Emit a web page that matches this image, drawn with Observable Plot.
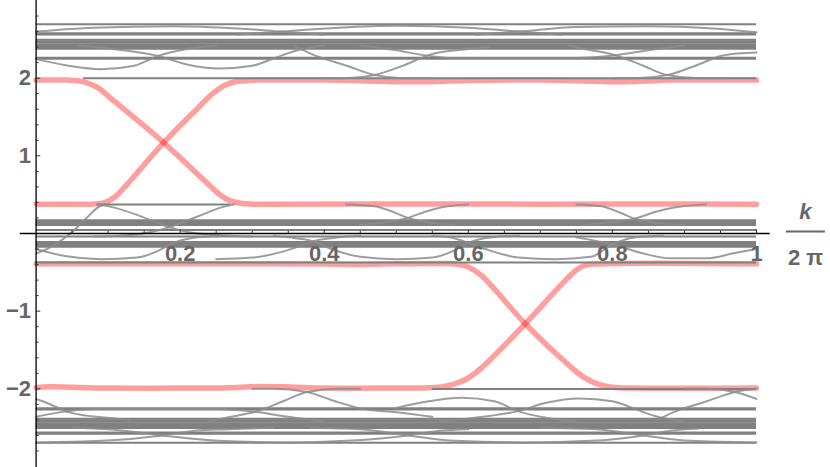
<!DOCTYPE html>
<html><head><meta charset="utf-8">
<script src="https://cdn.jsdelivr.net/npm/d3@7"></script>
<script src="https://cdn.jsdelivr.net/npm/@observablehq/plot@0.6"></script>
<style>body{margin:0;background:#fff;}</style>
</head><body><div id="chart"></div>
<script>
// ---- ticks ----
const xTicks = [0.2, 0.4, 0.6, 0.8, 1];
const xTickLabels = ["0.2", "0.4", "0.6", "0.8", "1"];
const xMinorTicks = [0.05, 0.1, 0.15, 0.25, 0.3, 0.35, 0.45, 0.5, 0.55, 0.65, 0.7, 0.75, 0.85, 0.9, 0.95];
const yTicks = [-2, -1, 1, 2];
const yTickLabels = ["−2", "−1", "1", "2"];
const yMinorTicks = [-2.8, -2.6, -2.4, -2.2, -1.8, -1.6, -1.4, -1.2, -0.8, -0.6, -0.4, -0.2,
                     0.2, 0.4, 0.6, 0.8, 1.2, 1.4, 1.6, 1.8, 2.2, 2.4, 2.6, 2.8];

// ---- flat gray bands (energy levels spanning all k) ----
const upperLevels = [2.25, 2.262, 2.378, 2.395, 2.415, 2.435, 2.455, 2.475, 2.495, 2.562, 2.578, 2.695];
const middleLevels = [0.11, 0.125, 0.14, 0.155, 0.17, 0.045, -0.04, -0.11, -0.125, -0.14, -0.155, -0.17, -0.373];
const lowerLevels = [-2.25, -2.265, -2.385, -2.405, -2.425, -2.445, -2.465, -2.485, -2.505, -2.562, -2.578, -2.695];
// partial flat gray levels: [level, kStart, kEnd]
const partialLevels = [[1.998, 0.066, 1], [0.375, 0.085, 0.27], [-2.003, 0.55, 1]];

// ---- dispersive gray curves ([k, E] points) ----
const upperCurves = [
  [[0,2.245],[0.045,2.16],[0.09,2.115],[0.136,2.16],[0.169,2.287],[0.208,2.373],[0.25,2.42]],
  [[0.06,2.42],[0.12,2.36],[0.169,2.287],[0.208,2.18],[0.254,2.124],[0.3,2.16],[0.333,2.265],[0.359,2.35],[0.4,2.42]],
  [[0.36,2.41],[0.385,2.3],[0.431,2.16],[0.47,2.04],[0.509,2.0],[0.55,1.998]],
  [[0.40,1.998],[0.43,2.0],[0.47,2.04],[0.509,2.16],[0.549,2.31],[0.595,2.37],[0.63,2.4]],
  [[0.74,2.42],[0.765,2.37],[0.804,2.296],[0.843,2.16],[0.876,2.04],[0.922,2.0],[0.95,1.998]],
  [[0.80,1.998],[0.83,2.0],[0.876,2.04],[0.915,2.16],[0.955,2.296],[1.0,2.33]],
  [[0.45,2.42],[0.5,2.36],[0.535,2.3],[0.58,2.26],[0.75,2.26],[0.804,2.296],[0.85,2.36],[0.9,2.42]],
  [[0,2.6],[0.08,2.65],[0.19,2.67],[0.28,2.64],[0.34,2.6],[0.4,2.56]],
  [[0.28,2.56],[0.34,2.6],[0.42,2.65],[0.5,2.675],[0.6,2.65],[0.67,2.6],[0.73,2.56]],
  [[0.61,2.56],[0.67,2.6],[0.75,2.66],[0.85,2.67],[0.94,2.64],[1.0,2.59]]
];
const middleCurves = [
  [[0,-0.26],[0.025,-0.15],[0.05,0.02],[0.07,0.2],[0.085,0.33],[0.095,0.375]],
  [[0.085,0.375],[0.11,0.33],[0.14,0.24],[0.165,0.15],[0.185,0.08],[0.21,0.02],[0.25,-0.02],[0.3,-0.04]],
  [[0.08,-0.04],[0.13,-0.02],[0.16,0.02],[0.185,0.08],[0.205,0.15],[0.23,0.24],[0.255,0.33],[0.275,0.375]],
  [[0.43,0.375],[0.47,0.35],[0.495,0.28],[0.516,0.2],[0.54,0.15],[0.58,0.11]],
  [[0.45,0.11],[0.49,0.15],[0.516,0.2],[0.54,0.28],[0.565,0.34],[0.6,0.375]],
  [[0.75,0.375],[0.785,0.35],[0.81,0.27],[0.831,0.19],[0.86,0.14],[0.9,0.11]],
  [[0.76,0.11],[0.8,0.15],[0.831,0.19],[0.86,0.28],[0.89,0.34],[0.93,0.375]],
  [[0,-0.2],[0.04,-0.29],[0.09,-0.33],[0.14,-0.31],[0.17,-0.22],[0.19,-0.12],[0.215,-0.06],[0.26,-0.03]],
  [[0.25,-0.33],[0.3,-0.31],[0.34,-0.24],[0.37,-0.15],[0.385,-0.1],[0.41,-0.06],[0.45,-0.03]],
  [[0.33,-0.03],[0.36,-0.06],[0.385,-0.1],[0.41,-0.2],[0.45,-0.3],[0.5,-0.33],[0.55,-0.31],[0.58,-0.22],[0.6,-0.12],[0.63,-0.05],[0.67,-0.03]],
  [[0.55,-0.03],[0.58,-0.06],[0.6,-0.12],[0.63,-0.22],[0.67,-0.31],[0.72,-0.33],[0.77,-0.3],[0.8,-0.14],[0.83,-0.05],[0.87,-0.03]],
  [[0.75,-0.05],[0.8,-0.14],[0.84,-0.25],[0.88,-0.32],[0.93,-0.32],[0.97,-0.25],[1.0,-0.2]]
];
const lowerCurves = [
  [[0,-2.13],[0.009,-2.16],[0.049,-2.31],[0.095,-2.37],[0.13,-2.4]],
  [[0,-2.36],[0.035,-2.3],[0.08,-2.26],[0.25,-2.26],[0.304,-2.296],[0.35,-2.36],[0.4,-2.42]],
  [[0.24,-2.42],[0.265,-2.37],[0.304,-2.296],[0.343,-2.16],[0.376,-2.04],[0.422,-2.0],[0.45,-2.0]],
  [[0.30,-2.0],[0.33,-2.0],[0.376,-2.04],[0.415,-2.16],[0.455,-2.26],[0.5,-2.3],[0.55,-2.36]],
  [[0.5,-2.245],[0.545,-2.16],[0.59,-2.115],[0.636,-2.16],[0.669,-2.287],[0.708,-2.373],[0.75,-2.42]],
  [[0.56,-2.42],[0.62,-2.36],[0.669,-2.287],[0.708,-2.18],[0.754,-2.124],[0.8,-2.16],[0.833,-2.265],[0.859,-2.35],[0.9,-2.42]],
  [[0.86,-2.41],[0.885,-2.3],[0.931,-2.16],[0.97,-2.04],[1.0,-2.0]],
  [[0.9,-2.0],[0.93,-2.0],[0.97,-2.04],[1.0,-2.13]],
  [[0,-2.69],[0.09,-2.67],[0.175,-2.6],[0.22,-2.54],[0.267,-2.52],[0.33,-2.5]],
  [[0.05,-2.5],[0.1,-2.52],[0.175,-2.6],[0.254,-2.67],[0.35,-2.69],[0.43,-2.67],[0.516,-2.6],[0.56,-2.54],[0.6,-2.52]],
  [[0.38,-2.5],[0.45,-2.52],[0.516,-2.6],[0.581,-2.67],[0.68,-2.69],[0.77,-2.67],[0.843,-2.6],[0.88,-2.54],[0.92,-2.51]],
  [[0.70,-2.5],[0.778,-2.52],[0.843,-2.6],[0.909,-2.67],[1.0,-2.69]]
];

// ---- edge states (red) ----
const edgeUpperDown = [[0,1.975],[0.045,1.975],[0.065,1.955],[0.085,1.88],[0.105,1.73],[0.177,1.17],[0.235,0.67],[0.255,0.5],[0.27,0.42],[0.29,0.382],[0.32,0.378],[0.5,0.38],[0.7,0.378],[0.85,0.38],[1,0.378]];
const edgeUpperUp = [[0,0.378],[0.075,0.378],[0.092,0.39],[0.108,0.46],[0.125,0.62],[0.177,1.17],[0.225,1.62],[0.245,1.8],[0.262,1.91],[0.28,1.96],[0.31,1.975],[0.4,1.975],[0.46,1.965],[0.5,1.955],[0.55,1.955],[0.6,1.97],[0.7,1.975],[0.76,1.965],[0.8,1.955],[0.84,1.96],[0.88,1.975],[1,1.975]];
const edgeLowerDown = [[0,-0.39],[0.2,-0.39],[0.4,-0.392],[0.45,-0.398],[0.5,-0.39],[0.56,-0.386],[0.585,-0.395],[0.6,-0.43],[0.618,-0.54],[0.679,-1.162],[0.74,-1.7],[0.76,-1.85],[0.78,-1.94],[0.8,-1.98],[0.83,-1.99],[1,-1.99]];
const edgeLowerUp = [[0,-1.985],[0.02,-1.972],[0.05,-1.98],[0.1,-1.99],[0.2,-1.99],[0.27,-1.985],[0.31,-1.97],[0.35,-1.975],[0.4,-1.99],[0.5,-1.99],[0.54,-1.988],[0.562,-1.975],[0.58,-1.94],[0.598,-1.87],[0.617,-1.74],[0.679,-1.162],[0.735,-0.6],[0.75,-0.47],[0.762,-0.41],[0.78,-0.392],[1,-0.39]];

// ---- build tables for the library ----
const toRows = (curves, tag) => curves.flatMap((c, i) => c.map(([k, e]) => ({k, e, id: tag + i})));
const grayRows = [...toRows(upperCurves, "u"), ...toRows(middleCurves, "m"), ...toRows(lowerCurves, "l")];
const redRows = toRows([edgeUpperDown, edgeUpperUp, edgeLowerDown, edgeLowerUp], "r");
const fullLevels = [...upperLevels, ...middleLevels, ...lowerLevels];

const labelFont = {fontFamily: "Liberation Sans, Arial, sans-serif", fontWeight: "bold", fontSize: 22, fill: "#666666"};
const gray = "#808080";

const chart = Plot.plot({
  width: 830, height: 467,
  marginLeft: 35.6, marginRight: 74, marginTop: 0, marginBottom: 1,
  x: {domain: [0, 1], axis: null},
  y: {domain: [-3, 3], axis: null},
  style: {background: "white", overflow: "visible"},
  marks: [
    Plot.line(redRows, {x: "k", y: "e", z: "id", stroke: "#ff0000", strokeOpacity: 0.38, strokeWidth: 5.5, curve: "catmull-rom"}),
    Plot.ruleY(fullLevels, {x1: 0, x2: 1, stroke: gray, strokeWidth: 2}),
    Plot.ruleY(partialLevels, {y: d => d[0], x1: d => d[1], x2: d => d[2], stroke: gray, strokeWidth: 2}),
    Plot.line(grayRows, {x: "k", y: "e", z: "id", stroke: "#8c8c8c", strokeOpacity: 0.85, strokeWidth: 2, curve: "monotone-x"}),
    // axes
    Plot.ruleX([0], {y1: -3.05, y2: 3.05, stroke: "black", strokeWidth: 1.3}),
    Plot.ruleY([0], {x1: -0.022, x2: 1.019, stroke: "black", strokeWidth: 1.3}),
    Plot.ruleY(yMinorTicks, {x1: 0, x2: 0.0042, stroke: "#333", strokeWidth: 1}),
    Plot.ruleY(yTicks, {x1: 0, x2: 0.0065, stroke: "#333", strokeWidth: 1}),
    Plot.ruleX(xMinorTicks, {y1: 0, y2: 0.03, stroke: "#333", strokeWidth: 1}),
    Plot.ruleX(xTicks, {y1: 0, y2: 0.05, stroke: "#333", strokeWidth: 1}),
    Plot.text(yTicks, {x: 0, y: d => d, text: (d, i) => yTickLabels[i], textAnchor: "end", dx: -5, lineAnchor: "middle", ...labelFont}),
    Plot.text(xTicks, {x: d => d, y: 0, text: (d, i) => xTickLabels[i], textAnchor: "middle", dy: 20, lineAnchor: "middle", ...labelFont}),
    // axis label k / 2π
    Plot.text(["k"], {x: 1.068, y: 0, dy: -22, text: d => d, fontStyle: "italic", lineAnchor: "middle", ...labelFont}),
    Plot.ruleY([0], {x1: 1.0415, x2: 1.0956, dy: -2, stroke: "#666666", strokeWidth: 2}),
    Plot.text(["2 π"], {x: 1.068, y: 0, dy: 24, text: d => d, lineAnchor: "middle", ...labelFont})
  ]
});
document.getElementById("chart").appendChild(chart);
</script>
</body></html>
